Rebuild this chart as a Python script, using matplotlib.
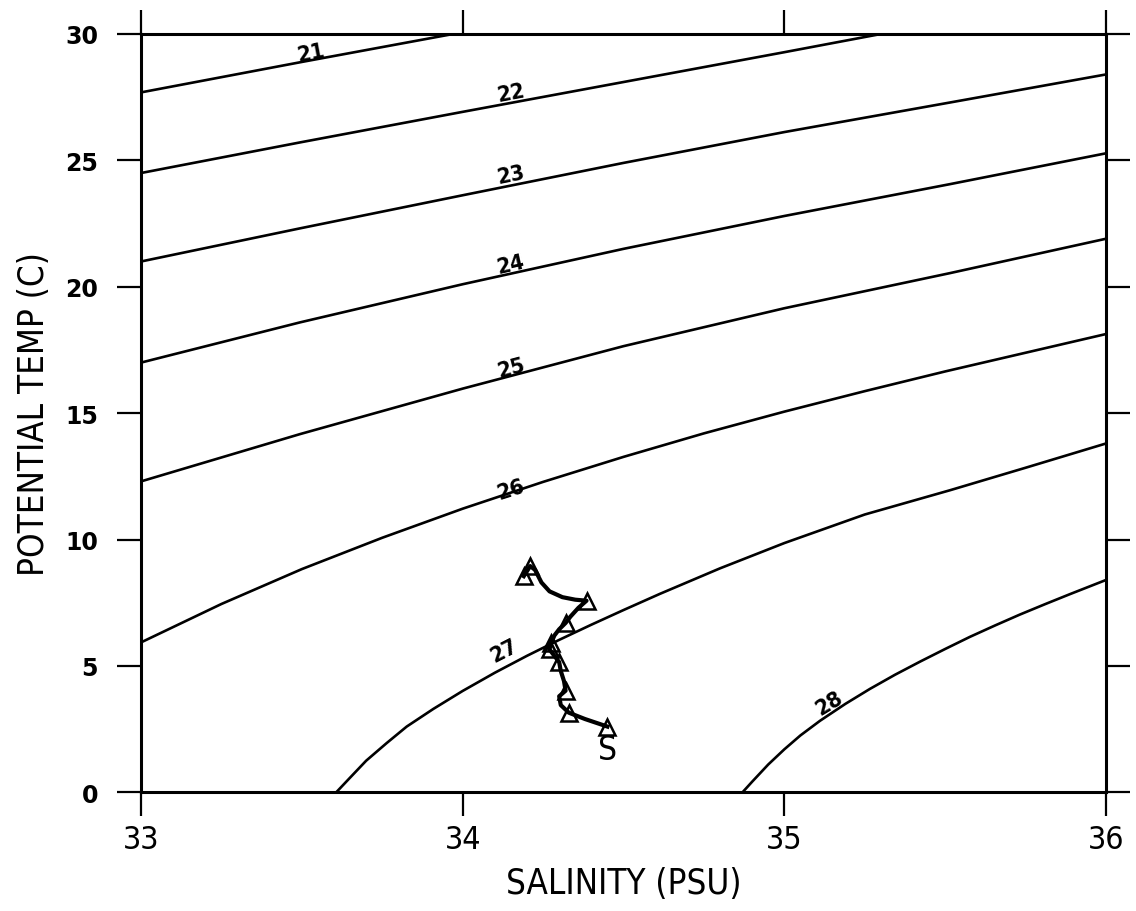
import matplotlib
matplotlib.use("Agg")
import matplotlib.pyplot as plt

# ---- isopycnal lines (sigma-theta): (salinity, temperature)
sig21_s = [33.0, 33.494, 33.97]
sig21_t = [27.69, 28.88, 30.0]
sig22_s = [33.0, 33.494, 34.0, 34.5, 35.0, 35.30]
sig22_t = [24.5, 25.71, 26.92, 28.1, 29.28, 30.0]
sig23_s = [33.0, 33.494, 34.0, 34.5, 35.0, 35.515, 36.0]
sig23_t = [21.0, 22.31, 23.62, 24.9, 26.12, 27.29, 28.4]
sig24_s = [33.0, 33.494, 34.0, 34.5, 35.0, 35.515, 36.0]
sig24_t = [17.0, 18.59, 20.1, 21.5, 22.8, 24.06, 25.28]
sig25_s = [33.0, 33.494, 34.0, 34.5, 35.0, 35.515, 36.0]
sig25_t = [12.3, 14.17, 15.97, 17.65, 19.15, 20.54, 21.9]
sig26_s = [33.0, 33.25, 33.5, 33.75, 34.0, 34.25, 34.5, 34.75, 35.0, 35.25, 35.5, 35.75, 36.0]
sig26_t = [5.93, 7.45, 8.83, 10.07, 11.22, 12.28, 13.27, 14.2, 15.06, 15.87, 16.65, 17.39, 18.13]
sig27_s = [33.607, 33.65, 33.70, 33.764, 33.826, 33.909, 34.0, 34.1, 34.2, 34.3, 34.4, 34.5,
           34.613, 34.8, 35.0, 35.25, 35.515, 35.75, 36.0]
sig27_t = [0.0, 0.58, 1.25, 1.95, 2.6, 3.3, 4.01, 4.73, 5.4, 6.03, 6.63, 7.21,
           7.85, 8.86, 9.86, 10.99, 11.95, 12.84, 13.8]
sig28_s = [34.87, 34.9, 34.95, 35.0, 35.05, 35.111, 35.19, 35.266, 35.344, 35.422, 35.5,
           35.577, 35.655, 35.732, 35.81, 35.888, 36.0]
sig28_t = [0.0, 0.42, 1.1, 1.7, 2.25, 2.83, 3.5, 4.09, 4.65, 5.17, 5.67,
           6.15, 6.6, 7.03, 7.44, 7.84, 8.4]

sigma_levels = ["21", "22", "23", "24", "25", "26", "27", "28"]
label_s = [33.53, 34.15, 34.15, 34.15, 34.15, 34.15, 34.13, 35.14]
label_t = [29.25, 27.7, 24.45, 20.9, 16.8, 12.0, 5.6, 3.55]

# ---- station profile
prof_s = [34.19, 34.21, 34.225, 34.245, 34.27, 34.31, 34.35, 34.385, 34.36, 34.335,
          34.32, 34.30, 34.285, 34.275, 34.27, 34.285, 34.30, 34.305, 34.315, 34.32,
          34.30, 34.305, 34.33, 34.38, 34.45]
prof_t = [8.55, 8.95, 8.8, 8.3, 7.95, 7.72, 7.62, 7.58, 7.3, 6.95,
          6.7, 6.45, 6.2, 5.9, 5.65, 5.4, 5.15, 4.8, 4.4, 4.02,
          3.8, 3.45, 3.15, 2.9, 2.6]
marker_idx = [0, 1, 7, 10, 13, 14, 16, 19, 22, 24]
station_label = "S"

x_ticks = [33, 34, 35, 36]
y_ticks = [0, 5, 10, 15, 20, 25, 30]

cond = dict(family=["DejaVu Sans"], stretch="condensed")

fig = plt.figure(figsize=(11.36, 9.12), dpi=100)
ax = fig.add_axes([141 / 1136, 1 - 793.3 / 912, (1106 - 141) / 1136, (793.3 - 35) / 912])

lines = [(sig21_s, sig21_t), (sig22_s, sig22_t), (sig23_s, sig23_t), (sig24_s, sig24_t),
         (sig25_s, sig25_t), (sig26_s, sig26_t), (sig27_s, sig27_t), (sig28_s, sig28_t)]
for s, t in lines:
    ax.plot(s, t, color="black", lw=1.9, solid_capstyle="butt", solid_joinstyle="round")

angles = [10.7, 10.7, 11.3, 12.8, 15.0, 17.5, 27.0, 31.0]
for lab, s, t, a in zip(sigma_levels, label_s, label_t, angles):
    ax.text(s, t, lab, rotation=a, ha="center", va="center", rotation_mode="anchor",
            fontsize=16, fontweight="bold", color="black", **cond)

ax.plot(prof_s, prof_t, color="black", lw=3.0, marker="^", markevery=marker_idx,
        markersize=12, markerfacecolor="none", markeredgecolor="black", markeredgewidth=1.8,
        solid_joinstyle="round")
ax.text(prof_s[-1], prof_t[-1] - 0.9, station_label, fontsize=24,
        ha="center", va="center", **cond)

ax.set_xlim(33, 36)
ax.set_ylim(0, 30)
ax.set_xticks(x_ticks)
ax.set_yticks(y_ticks)
ax.set_xticklabels([str(v) for v in x_ticks], fontsize=23, **cond)
ax.set_yticklabels([str(v) for v in y_ticks], fontsize=17, fontweight="bold", family=["DejaVu Sans"])
ax.tick_params(axis="both", which="major", direction="out", length=17, width=1.6,
               top=True, right=True, colors="black")
ax.tick_params(axis="x", pad=6)
ax.tick_params(axis="y", pad=14)
for sp in ax.spines.values():
    sp.set_linewidth(2.2)

ax.set_xlabel("SALINITY (PSU)", fontsize=25, labelpad=8, **cond)
ax.set_ylabel("POTENTIAL TEMP (C)", fontsize=25, labelpad=10, **cond)

fig.savefig("out.png", dpi=100)
